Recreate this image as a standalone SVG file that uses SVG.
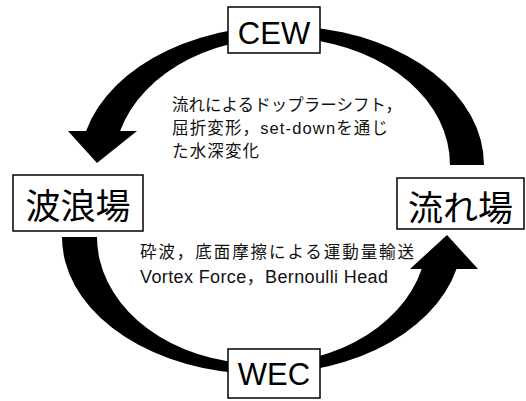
<svg xmlns="http://www.w3.org/2000/svg" width="526" height="401" viewBox="0 0 526 401">
<style>
.box{fill:#fff;stroke:#000;stroke-width:1.5}
.big{font-family:"Liberation Sans","Noto Sans CJK JP",sans-serif;font-size:31px;fill:#000;text-anchor:middle}
.cjk{font-family:"Noto Sans CJK JP","Liberation Sans",sans-serif;font-size:35px;fill:#000;text-anchor:middle}
.lbl{font-family:"Liberation Sans","Noto Sans CJK JP",sans-serif;font-size:16.5px;fill:#111}
.arrow{fill:#000;stroke:none}
</style>
<rect width="526" height="401" fill="#fff"/>
<g id="connectors">
  <path id="cew-arrow" class="arrow" d="M484 165 A202 139 0 0 0 86.1 131 L68 131 L97 163 L137 131 L120.1 131 A168 127 0 0 1 450 165 Z"/>
  <path id="wec-arrow" class="arrow" d="M62 237 A200 137 0 0 0 456.5 269 L478 269 L447 235 L410 269 L421.7 269 A165 127 0 0 1 97 237 Z"/>
</g>
<g id="label-cew">
  <text class="lbl" x="172" y="111" textLength="230">流れによるドップラーシフト，</text>
  <text class="lbl" x="172" y="134" textLength="216">屈折変形，set-downを通じ</text>
  <text class="lbl" x="172" y="157" textLength="87">た水深変化</text>
</g>
<g id="label-wec">
  <text class="lbl" x="140" y="258" textLength="274">砕波，底面摩擦による運動量輸送</text>
  <text class="lbl" x="140" y="283" style="font-size:18px" textLength="248">Vortex Force，Bernoulli Head</text>
</g>
<g id="node-cew">
  <rect class="box" x="228" y="7" width="92" height="46"/>
  <text class="big" x="274" y="43.5">CEW</text>
</g>
<g id="node-wave">
  <rect class="box" x="13" y="175" width="130" height="56"/>
  <text class="cjk" x="78" y="219">波浪場</text>
</g>
<g id="node-current">
  <rect class="box" x="397" y="178" width="127" height="51"/>
  <text class="cjk" x="460.5" y="221">流れ場</text>
</g>
<g id="node-wec">
  <rect class="box" x="228" y="349" width="92" height="49"/>
  <text class="big" x="274" y="385">WEC</text>
</g>
</svg>
